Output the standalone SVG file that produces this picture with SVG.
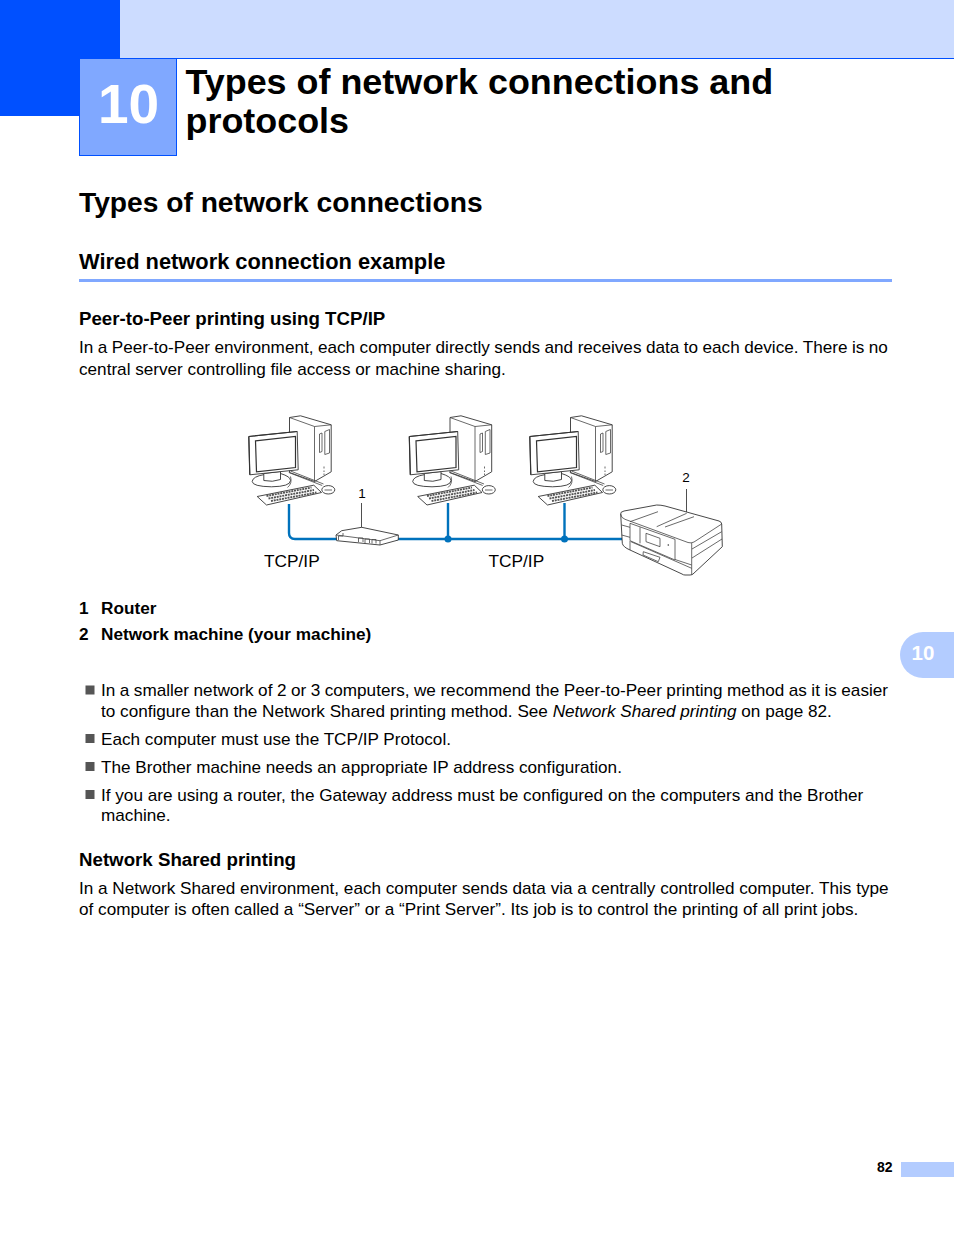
<svg xmlns="http://www.w3.org/2000/svg" xmlns:xlink="http://www.w3.org/1999/xlink" width="954" height="1235" viewBox="0 0 954 1235">
<style>
text{font-family:"Liberation Sans",Arial,sans-serif;fill:#000}
.b{font-size:17.150px}
.h{font-weight:bold}
.sb{font-size:18.700px;font-weight:bold}
.sl{font-size:17.200px;font-weight:bold}
.l{fill:#fff;stroke:#333;stroke-width:.9;stroke-linejoin:round}
.t{fill:none;stroke:#444;stroke-width:.8;stroke-linejoin:round}
.d{fill:none;stroke:#333;stroke-width:1.2}
.k{fill:none;stroke:#555;stroke-width:1.9;stroke-dasharray:2 .8}
.w{fill:none;stroke:#0072bc;stroke-width:2.4}
</style>
<defs>
<g id="pc">
<path class="l" d="M289 417L300 415.300L330.700 424.300V471.300L314 481L289 472Z"/>
<path class="t" d="M289 417L314 426V481M314 426L330.700 424.300M319 433.500V452L321.500 451V432.500ZM324.300 431V454L329 452.500V429Z"/>
<path class="t" d="M323.500 466v2M323.500 470v1.500M323.500 473v1.500"/>
<path class="l" d="M251.700 481Q252 476 264 474L280 473Q290 476 290 480Q290 486 271 486.300Q252 486 251.700 481Z"/>
<path class="l" d="M263.300 473V480Q272 482 280 479V471Z"/>
<path class="l" d="M248.300 436L296.700 431L297.700 469.300L249.300 474.300Z"/>
<path class="d" d="M248.300 436L296.700 431M248.300 436L249.300 474.300M255 440.300L295 436L295 467L256 471.300Z"/>
<path class="t" d="M288.300 472L321.700 485M290 470.500L323 483.500M290 476Q292 483 287 487"/>
<ellipse class="l" cx="327.800" cy="489.300" rx="6.500" ry="4.200"/>
<path class="t" d="M324 489.500H331.500"/>
<path class="l" d="M256.700 496L313.300 484.700L321 492L266 504.500Z"/>
<path class="k" d="M266 495.500L311 487M268 498L313.500 489.500M270.500 500.500L316 492"/>
</g>
</defs>
<g id="page-header">
<rect x="120" y="0" width="834" height="58" fill="#ccdcff"/>
<rect x="79" y="58" width="875" height="1" fill="#0050ff"/>
<rect x="0" y="0" width="120" height="116" fill="#0050ff"/>
<rect x="79.500" y="58.500" width="97" height="97" fill="#80a8ff" stroke="#0050ff"/>
<text x="128.500" y="123" text-anchor="middle" style="font-size:55px;font-weight:bold;fill:#fff">10</text>
<text class="h" x="185.500" y="93.500" style="font-size:35.900px">Types of network connections and</text>
<text class="h" x="185.500" y="132.500" style="font-size:35.900px">protocols</text>
</g>
<text class="h" x="79" y="211.500" style="font-size:28.200px">Types of network connections</text>
<text class="h" x="79" y="269" style="font-size:21.850px">Wired network connection example</text>
<rect x="79" y="279" width="813" height="3" fill="#80a8ff"/>
<text class="sb" x="79" y="325">Peer-to-Peer printing using TCP/IP</text>
<text class="b" x="79" y="353" word-spacing="-.28">In a Peer-to-Peer environment, each computer directly sends and receives data to each device. There is no</text>
<text class="b" x="79" y="374.500">central server controlling file access or machine sharing.</text>
<g id="connectors">
<path class="w" d="M289 504V533Q289 539 295 539H622M448 503V539M564.500 503V539"/>
<circle cx="448" cy="539" r="3.500" fill="#0072bc"/>
<circle cx="564.500" cy="539" r="3.500" fill="#0072bc"/>
<path d="M361.500 503V529M686.500 489V514" fill="none" stroke="#222" stroke-width=".8"/>
</g>
<g id="computer-1"><use xlink:href="#pc" href="#pc" x=".5" y=".5"/></g>
<g id="computer-2"><use xlink:href="#pc" href="#pc" x="161" y=".5"/></g>
<g id="computer-3"><use xlink:href="#pc" href="#pc" x="281.500" y=".5"/></g>
<g id="router">
<path class="l" d="M336 535L341.700 530.700L361.700 527.300L398.300 535V540L380 545L336.700 540.700Z"/>
<path class="t" d="M336 535L380 540.700V545M380 540.700L398.300 535M338.500 536V540M338.500 536H343V533M358.500 538v4M358.500 538h4.500v4M365 539v4M365 539h4.500v4M372 539.500v4M372 539.500h4v4"/>
</g>
<g id="printer">
<path class="l" d="M620.700 514Q620 512 624 511L656.700 505Q661 505 665 506L719 521Q721.700 522 721.700 524L722.300 546.700L693 574Q691.700 575 690 575H685Q683.300 575 682 574L630 550Q623 547 622.300 543.300Z"/>
<path class="t" d="M620.700 514Q621 518 625 519.300L688 542.500Q691 543.500 694 542L721.700 524M691.700 543V575"/>
<path class="t" d="M630 521.700L658 511.700M665 527L694 516.700M656.700 526.700L686.700 513.300"/>
<path class="t" d="M630 523.300L675 539.300V560L630 540.700ZM640 527.300V543.300M646 533.300L660 538.300V546.700L646 541.700Z"/>
<circle cx="668.300" cy="545" r=".8" fill="#333"/>
<path class="t" d="M692 549L721.700 531.700M692 558L722 539M621.700 525L630 527.300M621.700 535L630 537.300M631 541.700L691.700 568.300M675 559.500L691.700 565M643.300 551.700L660 557.300L658.300 561.700L643 555ZM630 541V550"/>
</g>
<g id="labels">
<text x="362" y="498" text-anchor="middle" style="font-size:13.500px">1</text>
<text x="686" y="482" text-anchor="middle" style="font-size:13.500px">2</text>
<text x="264" y="567" style="font-size:17.300px">TCP/IP</text>
<text x="488.500" y="567" style="font-size:17.300px">TCP/IP</text>
</g>
<text class="sl" x="79" y="614">1</text><text class="sl" x="101" y="614">Router</text>
<text class="sl" x="79" y="640">2</text><text class="sl" x="101" y="640">Network machine (your machine)</text>
<g id="bullets" fill="#555">
<rect x="85.500" y="685.500" width="9" height="9"/>
<rect x="85.500" y="734" width="9" height="9"/>
<rect x="85.500" y="762" width="9" height="9"/>
<rect x="85.500" y="790" width="9" height="9"/>
</g>
<text class="b" x="101" y="696" word-spacing="-.26">In a smaller network of 2 or 3 computers, we recommend the Peer-to-Peer printing method as it is easier</text>
<text class="b" x="101" y="717">to configure than the Network Shared printing method. See <tspan font-style="italic">Network Shared printing</tspan> on page 82.</text>
<text class="b" x="101" y="745">Each computer must use the TCP/IP Protocol.</text>
<text class="b" x="101" y="773">The Brother machine needs an appropriate IP address configuration.</text>
<text class="b" x="101" y="801">If you are using a router, the Gateway address must be configured on the computers and the Brother</text>
<text class="b" x="101" y="821">machine.</text>
<text class="sb" x="79" y="866">Network Shared printing</text>
<text class="b" x="79" y="894">In a Network Shared environment, each computer sends data via a centrally controlled computer. This type</text>
<text class="b" x="79" y="915">of computer is often called a “Server” or a “Print Server”. Its job is to control the printing of all print jobs.</text>
<g id="side-tab">
<path d="M954 632H923A23 23 0 0 0 923 678H954Z" fill="#b3ccff"/>
<text x="923" y="660" text-anchor="middle" style="font-size:20.500px;font-weight:bold;fill:#fff">10</text>
</g>
<g id="footer">
<text x="892.500" y="1172" text-anchor="end" style="font-size:14px;font-weight:bold">82</text>
<rect x="901" y="1162" width="53" height="15" fill="#b3ccff"/>
</g>
</svg>
